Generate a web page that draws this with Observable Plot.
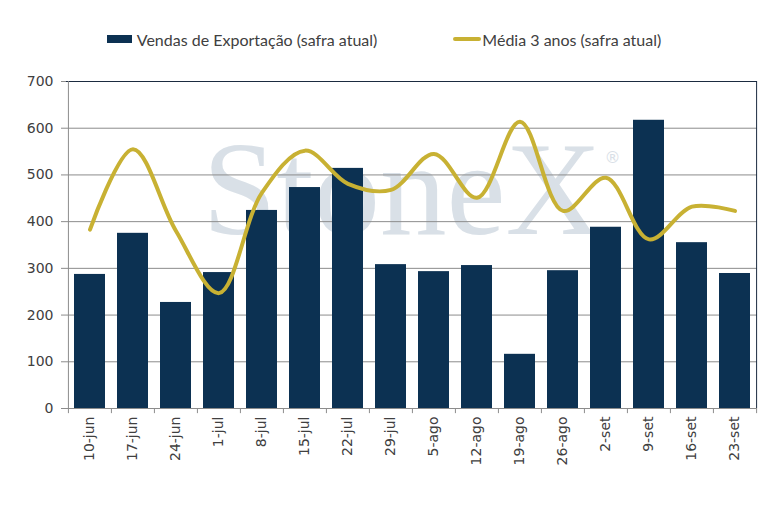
<!DOCTYPE html>
<html>
<head>
<meta charset="utf-8">
<script src="https://cdn.jsdelivr.net/npm/d3@7"></script>
<script src="https://cdn.jsdelivr.net/npm/@observablehq/plot@0.6"></script>
<style>
  body { margin: 0; background: white; }
  #legend {
    height: 60px; display: flex; justify-content: center; align-items: center;
    gap: 76px; font: 16px Lato, sans-serif; color: #404040; padding-top: 18px; box-sizing: border-box;
    padding-right: 12px;
  }
  #legend span { display: flex; align-items: center; }
  .sw-bar { display: inline-block; width: 25px; height: 8px; background: #0c3152; margin-right: 5px; }
  .sw-line { display: inline-block; width: 28px; height: 4px; border-radius: 2px; background: #c8b133; margin-right: 1px; }
</style>
</head>
<body>
<div id="legend">
  <span><i class="sw-bar"></i>Vendas de Exportação (safra atual)</span>
  <span><i class="sw-line"></i>Média 3 anos (safra atual)</span>
</div>
<div id="chart"></div>
<script>
const semanas = ['10-jun','17-jun','24-jun','1-jul','8-jul','15-jul','22-jul','29-jul',
                 '5-ago','12-ago','19-ago','26-ago','2-set','9-set','16-set','23-set']
const vendas = [287, 375, 227, 291, 424, 473, 514, 308, 293, 306, 116, 295, 388, 617, 355, 289]
const media3 = [383, 555, 380, 247, 462, 552, 481, 468, 545, 451, 614, 423, 494, 362, 432, 423]
const yTicks = [0, 100, 200, 300, 400, 500, 600, 700]

const dados = semanas.map((s, i) => ({semana: s, vendas: vendas[i], media: media3[i]}))

const W = 780, mL = 66, mR = 23
const meio = (W - mL - mR) / semanas.length / 2  // meia largura da banda
const fonteEixo = 'DejaVu Sans'

const chart = Plot.plot({
  width: W,
  height: 459,
  marginTop: 21,
  marginLeft: mL,
  marginRight: mR,
  marginBottom: 111,
  style: {fontFamily: fonteEixo, color: '#404040', background: 'white'},
  x: {domain: semanas, paddingInner: 0.28, paddingOuter: 0.14, label: null},
  y: {domain: [0, 700], label: null},
  marks: [
    // marca d'agua
    Plot.text(['StoneX'], {frameAnchor: 'top-left', dx: 136, dy: 152, lineAnchor: 'bottom', textAnchor: 'start',
      fontSize: 133, fontFamily: 'Liberation Serif, serif', fill: '#d9e0e7'}),
    Plot.text(['®'], {frameAnchor: 'top-left', dx: 538, dy: 70, textAnchor: 'start',
      fontSize: 16, fill: '#d9e0e7'}),
    Plot.ruleY(yTicks.slice(1, -1), {stroke: '#8c8c8c', strokeWidth: 1}),
    Plot.barY(dados, {x: 'semana', y: 'vendas', fill: '#0c3152'}),
    Plot.line(dados, {x: 'semana', y: 'media', curve: 'catmull-rom', stroke: '#c8b133', strokeWidth: 4}),
    Plot.ruleY([0], {stroke: '#8c8c8c'}),
    Plot.ruleY([700], {stroke: '#1b2b40'}),
    Plot.ruleX([semanas[0]], {dx: -meio, stroke: '#8c8c8c'}),
    Plot.ruleX([semanas[semanas.length - 1]], {dx: meio, stroke: '#1b2b40'}),
    // marcas de separacao no eixo x
    Plot.ruleX(semanas, {x: d => d, dx: -meio, y1: 0, y2: -11, stroke: '#8c8c8c'}),
    Plot.ruleX([semanas[semanas.length - 1]], {dx: meio, y1: 0, y2: -11, stroke: '#8c8c8c'}),
    Plot.axisY(yTicks, {tickSize: 5, tickPadding: 8, fontSize: 14, fontFamily: fonteEixo, stroke: '#8c8c8c', fill: '#404040'}),
    Plot.axisX({tickSize: 0, tickPadding: 8, tickRotate: -90, fontSize: 14, fontFamily: fonteEixo, fill: '#404040'})
  ]
})

d3.select('#chart').append(() => chart)
</script>
</body>
</html>
